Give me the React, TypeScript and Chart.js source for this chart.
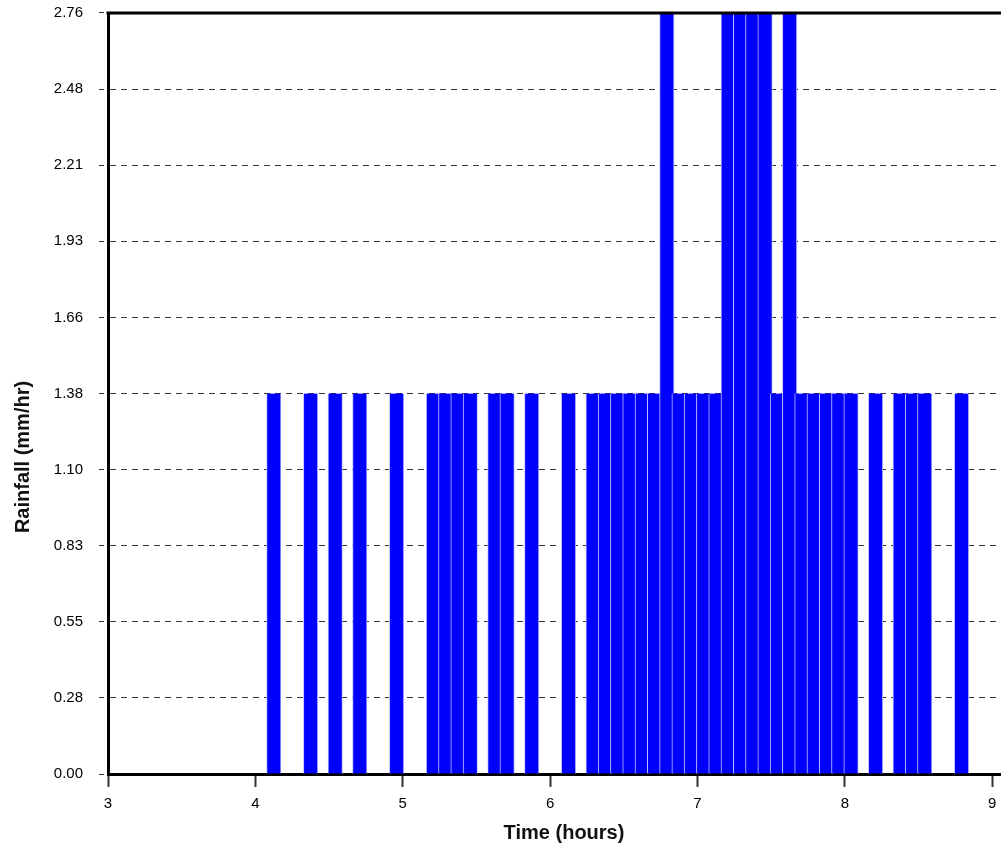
import { useEffect, useRef } from 'react';
import { Chart, registerables } from 'chart.js';

Chart.register(...registerables);

// Centre of each 5-minute rainfall interval (hours)
const timeHours = [
  4.125, 4.375, 4.5417, 4.7083, 4.9583,
  5.2083, 5.2917, 5.375, 5.4583, 5.625, 5.7083, 5.875,
  6.125, 6.2917, 6.375, 6.4583, 6.5417, 6.625, 6.7083, 6.7917, 6.875, 6.9583,
  7.0417, 7.125, 7.2083, 7.2917, 7.375, 7.4583, 7.5417, 7.625, 7.7083, 7.7917, 7.875, 7.9583,
  8.0417, 8.2083, 8.375, 8.4583, 8.5417, 8.7917,
];

// Rainfall intensity (mm/hr)
const rainfall = [
  1.38, 1.38, 1.38, 1.38, 1.38,
  1.38, 1.38, 1.38, 1.38, 1.38, 1.38, 1.38,
  1.38, 1.38, 1.38, 1.38, 1.38, 1.38, 1.38, 2.76, 1.38, 1.38,
  1.38, 1.38, 2.76, 2.76, 2.76, 2.76, 1.38, 2.76, 1.38, 1.38, 1.38, 1.38,
  1.38, 1.38, 1.38, 1.38, 1.38, 1.38,
];

const xTickValues = [3, 4, 5, 6, 7, 8, 9];
const xTickLabels = ['3', '4', '5', '6', '7', '8', '9'];
const yTickLabels = ['0.00', '0.28', '0.55', '0.83', '1.10', '1.38', '1.66', '1.93', '2.21', '2.48', '2.76'];
const yStep = 0.276;
const xMin = 3;
const xMax = 9.188;
const yMax = 2.76;
const xTitle = 'Time (hours)';
const yTitle = 'Rainfall (mm/hr)';

const FONT = "'Liberation Sans', Arial, sans-serif";

export default function App() {
  const ref = useRef<HTMLCanvasElement>(null);

  useEffect(() => {
    if (!ref.current) return;
    const frame = {
      id: 'frame',
      afterDatasetsDraw(chart: any) {
        const { ctx, chartArea } = chart;
        ctx.save();
        ctx.strokeStyle = '#000';
        ctx.lineWidth = 3;
        ctx.beginPath();
        ctx.moveTo(chartArea.left - 1.5, chartArea.top);
        ctx.lineTo(chartArea.right, chartArea.top);
        ctx.stroke();
        ctx.restore();
      },
      afterDraw(chart: any) {
        const { ctx, chartArea } = chart;
        ctx.save();
        ctx.fillStyle = '#111';
        ctx.font = `bold 20px ${FONT}`;
        ctx.textAlign = 'center';
        ctx.textBaseline = 'middle';
        ctx.translate(23, chartArea.bottom - 317);
        ctx.rotate(-Math.PI / 2);
        ctx.fillText(yTitle, 0, 0);
        ctx.restore();
      },
    };

    const chart = new Chart(ref.current, {
      type: 'bar',
      data: {
        datasets: [
          {
            data: timeHours.map((t, i) => ({ x: t, y: rainfall[i] })),
            backgroundColor: '#0000ff',
            borderColor: '#c4c4ff',
            borderWidth: { left: 1, right: 1, top: 0, bottom: 0 },
            borderSkipped: false,
            barThickness: 14.5,
          } as any,
        ],
      },
      options: {
        animation: false,
        responsive: false,
        layout: { padding: { top: 13, left: 0, right: 0, bottom: 0 } },
        plugins: { legend: { display: false }, tooltip: { enabled: false } },
        scales: {
          x: {
            type: 'linear',
            min: xMin,
            max: xMax,
            offset: false,
            afterFit: (s: any) => { s.height = 75; s.paddingLeft = 0; s.paddingRight = 0; },
            afterBuildTicks: (s: any) => { s.ticks = xTickValues.map((v) => ({ value: v })); },
            border: { display: true, color: '#000', width: 3 },
            grid: {
              offset: false,
              drawOnChartArea: false,
              tickLength: 13,
              tickColor: '#333',
              tickWidth: 2,
            },
            ticks: {
              font: { family: FONT, size: 15 },
              color: '#000',
              padding: 8,
              maxRotation: 0,
              callback: (_v: any, i: number) => xTickLabels[i],
            },
            title: {
              display: true,
              text: xTitle,
              font: { family: FONT, size: 20, weight: 'bold' },
              color: '#111',
              padding: { top: 0, bottom: 4 },
            },
          },
          y: {
            type: 'linear',
            min: 0,
            max: yMax,
            afterFit: (s: any) => { s.width = 108; s.paddingTop = 0; s.paddingBottom = 0; },
            afterBuildTicks: (s: any) => { s.ticks = yTickLabels.map((_l, i) => ({ value: i * yStep })); },
            border: { display: true, color: '#000', width: 3, dash: [6, 5] },
            grid: {
              color: '#333',
              lineWidth: 1,
              tickLength: 9,
              tickColor: '#333',
              tickBorderDash: [5, 5],
            } as any,
            ticks: {
              font: { family: FONT, size: 15 },
              color: '#000',
              padding: 16,
              callback: (_v: any, i: number) => yTickLabels[i],
            },
          },
        },
      } as any,
      plugins: [frame],
    });
    return () => chart.destroy();
  }, []);

  return (
    <div style={{ position: 'absolute', left: 0, top: 0, width: 1001, height: 849, overflow: 'hidden', background: '#fff' }}>
      <canvas ref={ref} width={1020} height={849} style={{ display: 'block' }} />
    </div>
  );
}
